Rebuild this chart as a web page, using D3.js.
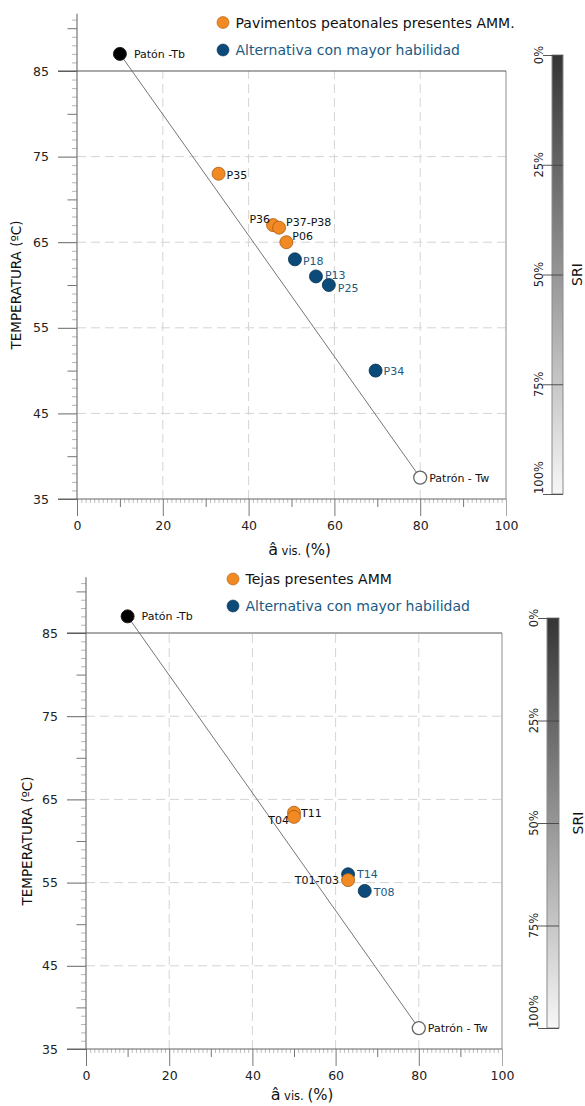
<!DOCTYPE html>
<html><head><meta charset="utf-8">
<script src="https://cdn.jsdelivr.net/npm/d3@7/dist/d3.min.js"></script>
<style>
html,body{margin:0;padding:0;background:#fff;}
svg{display:block;font-family:"DejaVu Sans",Verdana,sans-serif;}
</style></head>
<body>
<svg id="chart" width="585" height="1106"></svg>
<script>
// ---------- DATA ----------
const xTicks = [0, 20, 40, 60, 80, 100];
const yTicks = [35, 45, 55, 65, 75, 85];
const sriTicks = [0, 25, 50, 75, 100];
const sriTickLabels = ["0%", "25%", "50%", "75%", "100%"];

const refNames = ["Patón -Tb", "Patrón - Tw"];
const refX = [10, 80];
const refY = [87, 37.5];

const topLegend = ["Pavimentos peatonales presentes AMM.", "Alternativa con mayor habilidad"];
const topNames = ["P35", "P36", "P37-P38", "P06", "P18", "P13", "P25", "P34"];
const topX = [33, 45.7, 47.1, 48.8, 50.8, 55.7, 58.7, 69.6];
const topY = [73, 67, 66.7, 65, 63, 61, 60, 50];
const topGroup = ["present", "present", "present", "present", "alt", "alt", "alt", "alt"];

const bottomLegend = ["Tejas presentes AMM", "Alternativa con mayor habilidad"];
const bottomNames = ["T11", "T04", "T14", "T01-T03", "T08"];
const bottomX = [50, 50, 63, 63, 67];
const bottomY = [63.4, 62.9, 56, 55.3, 54];
const bottomGroup = ["present", "present", "alt", "present", "alt"];

// ---------- STYLE / LAYOUT ----------
const ORANGE = "#f28a24", ORANGE_S = "#a95a12";
const BLUE = "#0c4a7a", BLUE_S = "#07304f";
const BLUE_TEXT = "#1b5a82";
const R = 6.5;

// label placement: [anchor, dx, dy]
const labelPos = {
  "Patón -Tb": ["start", 14, 4], "Patrón - Tw": ["start", 9, 4],
  "P35": ["start", 8, 5], "P36": ["end", -3, -2], "P37-P38": ["start", 7, -1.5],
  "P06": ["start", 6, -2], "P18": ["start", 8, 6], "P13": ["start", 9, 3],
  "P25": ["start", 9, 7], "P34": ["start", 8, 4],
  "T11": ["start", 7, 4], "T04": ["end", -5, 7], "T14": ["start", 9, 4],
  "T01-T03": ["end", -9, 4], "T08": ["start", 9, 5]
};

const svg = d3.select("#chart");

function panel(o) {
  const g = svg.append("g");
  const x = d3.scaleLinear().domain([0, 100]).range([o.x0, o.x1]);
  const y = d3.scaleLinear().domain([35, 85]).range([o.y35, o.y85]);
  const yTop = 91.7;

  // grid
  g.append("g").selectAll("line").data([20, 40, 60, 80]).join("line")
    .attr("x1", d => x(d)).attr("x2", d => x(d)).attr("y1", y(35)).attr("y2", y(85))
    .attr("stroke", "#d4d4d4").attr("stroke-width", 1).attr("stroke-dasharray", "9,5");
  g.append("g").selectAll("line").data([45, 55, 65, 75]).join("line")
    .attr("x1", x(0)).attr("x2", x(100)).attr("y1", d => y(d)).attr("y2", d => y(d))
    .attr("stroke", "#d4d4d4").attr("stroke-width", 1).attr("stroke-dasharray", "9,5");

  // right border
  g.append("line").attr("x1", x(100)).attr("x2", x(100)).attr("y1", y(85)).attr("y2", y(35))
    .attr("stroke", "#a8a8a8").attr("stroke-width", 1.3);

  // y axis tiers
  const minorY = d3.range(35, 92, 1).filter(v => v % 5 !== 0);
  const midY = d3.range(40, 95, 10);
  function styleAxis(sel, col) {
    sel.select(".domain").remove();
    sel.selectAll(".tick line").attr("stroke", col);
  }
  g.append("g").attr("transform", `translate(${x(0)},0)`)
    .call(d3.axisLeft(y).tickValues(minorY).tickSize(5).tickFormat(""))
    .call(s => styleAxis(s, "#b5b5b5"));
  g.append("g").attr("transform", `translate(${x(0)},0)`)
    .call(d3.axisLeft(y).tickValues(midY).tickSize(9.5).tickFormat(""))
    .call(s => styleAxis(s, "#777"));
  const ya = g.append("g").attr("transform", `translate(${x(0)},0)`)
    .call(d3.axisLeft(y).tickValues(yTicks).tickSize(19).tickPadding(9).tickFormat(d3.format("d")))
    .call(s => styleAxis(s, "#666"));
  ya.selectAll("text").attr("font-size", 12.5).attr("fill", "#222").attr("font-family", "DejaVu Sans");

  // x axis tiers
  const minorX = d3.range(0, 101, 1).filter(v => v % 10 !== 0);
  const midX = d3.range(10, 100, 20);
  g.append("g").attr("transform", `translate(0,${y(35)})`)
    .call(d3.axisBottom(x).tickValues(minorX).tickSize(4).tickFormat(""))
    .call(s => styleAxis(s, "#bdbdbd"));
  g.append("g").attr("transform", `translate(0,${y(35)})`)
    .call(d3.axisBottom(x).tickValues(midX).tickSize(8).tickFormat(""))
    .call(s => styleAxis(s, "#777"));
  const xa = g.append("g").attr("transform", `translate(0,${y(35)})`)
    .call(d3.axisBottom(x).tickValues(xTicks).tickSize(17).tickPadding(5).tickFormat(d3.format("d")))
    .call(s => styleAxis(s, "#777"));
  xa.selectAll("text").attr("font-size", 12.5).attr("fill", "#222").attr("font-family", "DejaVu Sans");
  xa.selectAll(".tick").filter(d => d === 100).select("line").attr("stroke", "#a8a8a8");

  // axis lines
  g.append("line").attr("x1", x(0)).attr("x2", x(0)).attr("y1", y(35)).attr("y2", y(yTop))
    .attr("stroke", "#777").attr("stroke-width", 1.2);
  g.append("line").attr("x1", x(0) - 19).attr("x2", x(100)).attr("y1", y(35)).attr("y2", y(35))
    .attr("stroke", "#666").attr("stroke-width", 1.2);
  g.append("line").attr("x1", x(0) - 19).attr("x2", x(100)).attr("y1", y(85)).attr("y2", y(85))
    .attr("stroke", "#555").attr("stroke-width", 1.2);

  // axis titles
  g.append("text").attr("transform", `translate(${o.titleX},${(y(35) + y(85)) / 2}) rotate(-90)`)
    .attr("text-anchor", "middle").attr("dy", "0.35em").attr("font-size", 13.5).attr("fill", "#111")
    .text("TEMPERATURA (ºC)");
  const xt = g.append("text").attr("x", (x(0) + x(100)) / 2 + 8).attr("y", o.xTitleY)
    .attr("text-anchor", "middle").attr("fill", "#111");
  xt.append("tspan").attr("font-size", 16).text("â");
  xt.append("tspan").attr("font-size", 11.5).text(" vis. ");
  xt.append("tspan").attr("font-size", 15).text("(%)");

  // reference line
  g.append("line").attr("x1", x(refX[0])).attr("y1", y(refY[0]))
    .attr("x2", x(refX[1])).attr("y2", y(refY[1]))
    .attr("stroke", "#666").attr("stroke-width", 0.9);

  // points
  const pts = o.names.map((n, i) => ({ n, x: o.xs[i], y: o.ys[i], gr: o.groups[i] }));
  const order = pts.slice().sort((a, b) => (a.gr === "alt" ? 0 : 1) - (b.gr === "alt" ? 0 : 1));
  g.append("g").selectAll("circle").data(order).join("circle")
    .attr("cx", d => x(d.x)).attr("cy", d => y(d.y)).attr("r", R)
    .attr("fill", d => d.gr === "alt" ? BLUE : ORANGE)
    .attr("stroke", d => d.gr === "alt" ? BLUE_S : ORANGE_S).attr("stroke-width", 0.8);
  g.append("g").selectAll("text").data(pts).join("text")
    .attr("x", d => x(d.x) + labelPos[d.n][1]).attr("y", d => y(d.y) + labelPos[d.n][2])
    .attr("text-anchor", d => labelPos[d.n][0])
    .attr("font-size", 11).attr("fill", d => d.gr === "alt" ? BLUE_TEXT : "#111")
    .text(d => d.n);

  // reference points
  const refs = refNames.map((n, i) => ({ n, x: refX[i], y: refY[i], i }));
  g.append("g").selectAll("circle").data(refs).join("circle")
    .attr("cx", d => x(d.x)).attr("cy", d => y(d.y)).attr("r", R)
    .attr("fill", d => d.i === 0 ? "#000" : "#fff")
    .attr("stroke", d => d.i === 0 ? "#222" : "#666").attr("stroke-width", d => d.i === 0 ? 1 : 1.3);
  g.append("g").selectAll("text").data(refs).join("text")
    .attr("x", d => x(d.x) + labelPos[d.n][1]).attr("y", d => y(d.y) + labelPos[d.n][2])
    .attr("text-anchor", "start").attr("font-size", 11).attr("fill", "#111").text(d => d.n);

  // legend
  const lg = g.append("g");
  o.legend.forEach((t, i) => {
    const cy = o.legY[i];
    lg.append("circle").attr("cx", o.legX).attr("cy", cy).attr("r", 6)
      .attr("fill", i === 0 ? ORANGE : BLUE).attr("stroke", i === 0 ? ORANGE_S : BLUE_S).attr("stroke-width", 0.6);
    lg.append("text").attr("x", o.legX + 12.5).attr("y", cy + 5).attr("font-size", 14)
      .attr("fill", i === 0 ? "#111" : BLUE_TEXT).text(t);
  });

  // colorbar
  const b = o.bar;
  const sri = d3.scaleLinear().domain([0, 100]).range([b.top, b.bottom]);
  const gid = "grad" + o.id;
  const grad = svg.append("defs").append("linearGradient").attr("id", gid)
    .attr("x1", 0).attr("y1", 0).attr("x2", 0).attr("y2", 1);
  grad.append("stop").attr("offset", "0%").attr("stop-color", "#353535");
  grad.append("stop").attr("offset", "100%").attr("stop-color", "#f7f7f7");
  g.append("rect").attr("x", b.left).attr("y", b.top).attr("width", b.right - b.left)
    .attr("height", b.bottom - b.top).attr("fill", `url(#${gid})`)
    .attr("stroke", "#8a8a8a").attr("stroke-width", 1);
  const ca = g.append("g").attr("transform", `translate(${b.right},0)`)
    .call(d3.axisLeft(sri).tickValues(sriTicks).tickSize(b.right - b.left + 9).tickFormat(""));
  ca.select(".domain").remove();
  ca.selectAll(".tick line").attr("stroke", "#444").attr("stroke-width", 0.9);
  g.append("g").selectAll("text").data(sriTicks).join("text")
    .attr("transform", (d, i) => `translate(${b.left - 13},${sri(d)}) rotate(-90)`)
    .attr("text-anchor", (d, i) => i === sriTicks.length - 1 ? "start" : "middle")
    .attr("dy", "0.35em").attr("font-size", 11.5).attr("fill", "#222")
    .text((d, i) => sriTickLabels[i]);
  g.append("text").attr("transform", `translate(${o.sriX},${(b.top + b.bottom) / 2}) rotate(-90)`)
    .attr("text-anchor", "middle").attr("dy", "0.35em").attr("font-size", 14).attr("fill", "#111")
    .text("SRI");
}

panel({
  id: "a", x0: 77, x1: 506, y35: 499, y85: 71,
  names: topNames, xs: topX, ys: topY, groups: topGroup,
  legend: topLegend, legX: 223, legY: [22.5, 50],
  bar: { left: 552, right: 563, top: 55, bottom: 494 }, sriX: 577,
  titleX: 16, xTitleY: 555
});
panel({
  id: "b", x0: 86, x1: 502, y35: 1049, y85: 633,
  names: bottomNames, xs: bottomX, ys: bottomY, groups: bottomGroup,
  legend: bottomLegend, legX: 233, legY: [579, 606],
  bar: { left: 547, right: 559, top: 618, bottom: 1028 }, sriX: 578,
  titleX: 27, xTitleY: 1100
});
</script>
</body></html>
